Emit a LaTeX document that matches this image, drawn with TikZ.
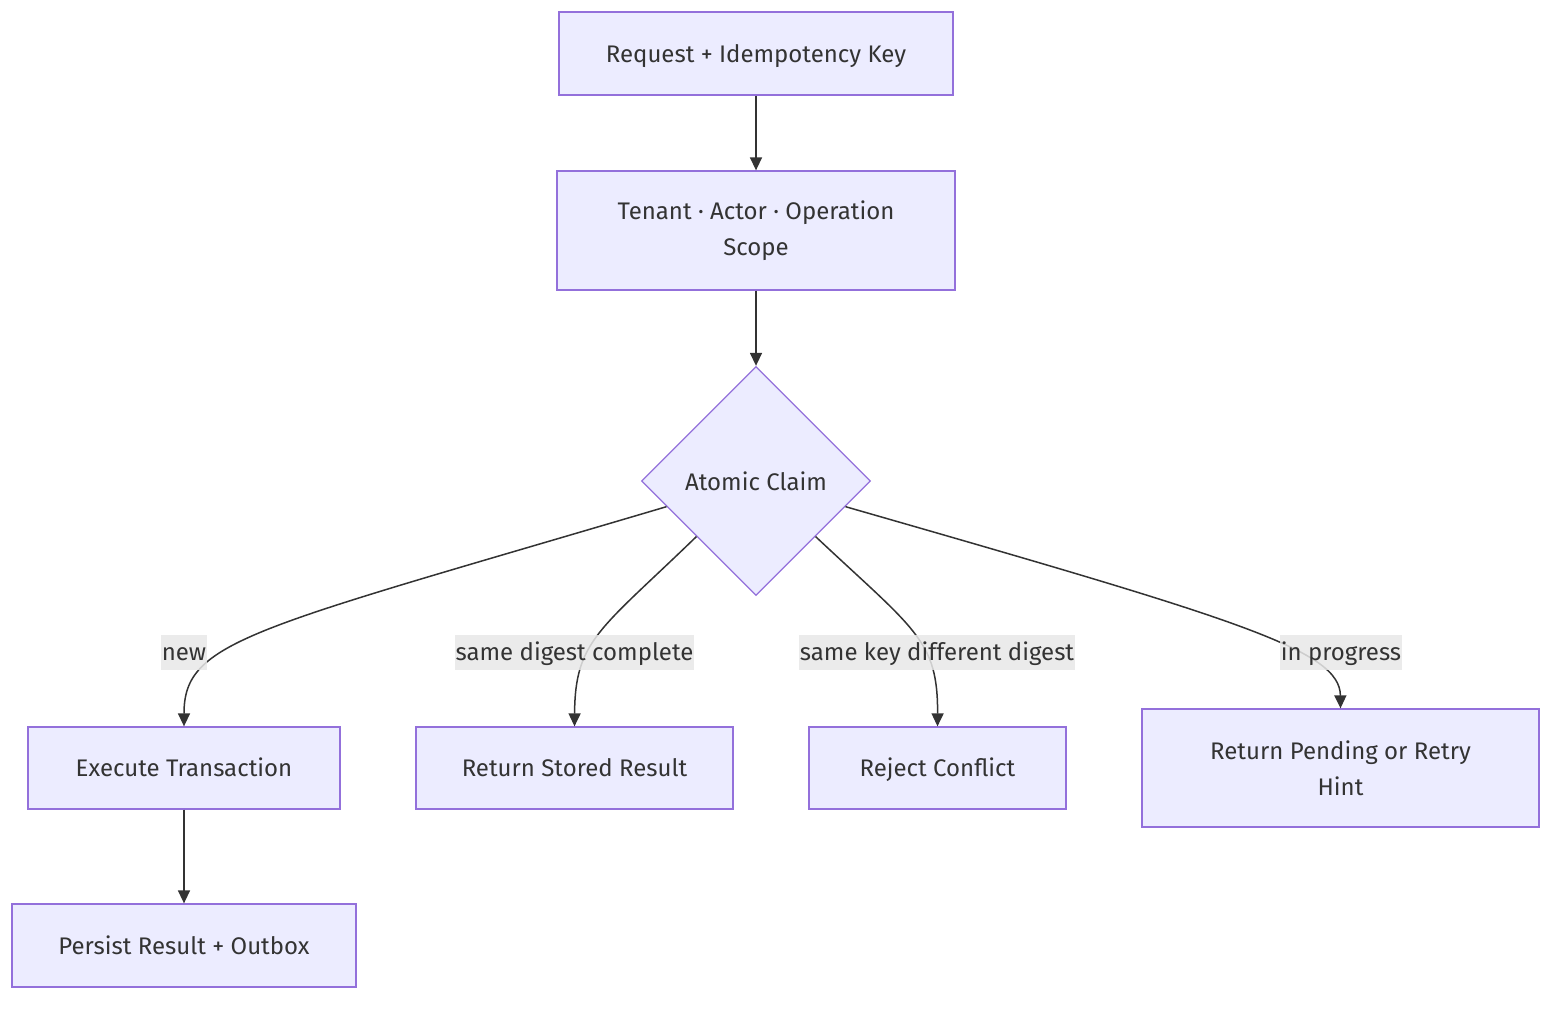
\documentclass[tikz,border=0pt]{standalone}
\usepackage{fontspec}
\setmainfont{Fira Sans}
\usetikzlibrary{shapes.geometric,arrows.meta}

\definecolor{boxfill}{HTML}{ECECFF}
\definecolor{boxline}{HTML}{9370DB}
\definecolor{edgeline}{HTML}{333333}
\definecolor{labelbg}{HTML}{E8E8E8}

\tikzset{
    box/.style={draw=boxline, fill=boxfill, line width=1.3pt, text=edgeline,
        inner sep=0pt, align=center, font=\fontsize{24}{36}\selectfont},
    oneline/.style={text height=20pt, text depth=3pt},
    decision/.style={diamond, aspect=1, draw=boxline, fill=boxfill, line width=1.3pt,
        text=edgeline, inner sep=0pt, minimum width=229pt, minimum height=229pt,
        font=\fontsize{24}{36}\selectfont},
    flow/.style={draw=edgeline, line width=1.5pt, -{Triangle[length=13pt,width=12pt]}},
    edgelabel/.style={fill=labelbg, fill opacity=0.85, text opacity=1, text=edgeline,
        inner xsep=1pt, inner ysep=0pt, minimum height=35pt, text height=20pt, text depth=3pt,
        font=\fontsize{24}{36}\selectfont}
}

\begin{document}
\begin{tikzpicture}[x=1pt, y=-1pt]
    \useasboundingbox (0,0) rectangle (1568,1010);

    % nodes
    \node[box, oneline, minimum width=394pt, minimum height=83pt] (request) at (756,53.5) {Request + Idempotency Key};
    \node[box, minimum width=398pt, minimum height=119pt] (scope) at (756,230.5) {Tenant · Actor · Operation\\Scope};
    \node[decision] (claim) at (756,481) {Atomic Claim};

    \node[box, oneline, minimum width=312pt, minimum height=82pt] (execute) at (184,768) {Execute Transaction};
    \node[box, oneline, minimum width=317pt, minimum height=82pt] (stored) at (574.5,768) {Return Stored Result};
    \node[box, oneline, minimum width=257pt, minimum height=82pt] (conflict) at (937.5,768) {Reject Conflict};
    \node[box, minimum width=397pt, minimum height=118pt] (pending) at (1340.5,768) {Return Pending or Retry\\Hint};
    \node[box, oneline, minimum width=344pt, minimum height=83pt] (persist) at (184,945.5) {Persist Result + Outbox};

    % connectors
    \draw[flow] (request) -- (scope);
    \draw[flow] (scope) -- (claim);
    \draw[flow] (claim.196) .. controls (250,630) and (184,640) .. (execute.north);
    \draw[flow] (claim.223) .. controls (600,630) and (575,640) .. (stored.north);
    \draw[flow] (claim.317) .. controls (915,630) and (938,640) .. (conflict.north);
    \draw[flow] (claim.344) .. controls (1240,620) and (1340,650) .. (pending.north);
    \draw[flow] (execute) -- (persist);

    % edge labels
    \node[edgelabel] (lnew) at (184,652) {new};
    \node[edgelabel] (lstored) at (574.5,652) {same digest complete};
    \node[edgelabel] (lconflict) at (937,652) {same key different digest};
    \node[edgelabel] (lpending) at (1341,652) {in progress};
\end{tikzpicture}
\end{document}
